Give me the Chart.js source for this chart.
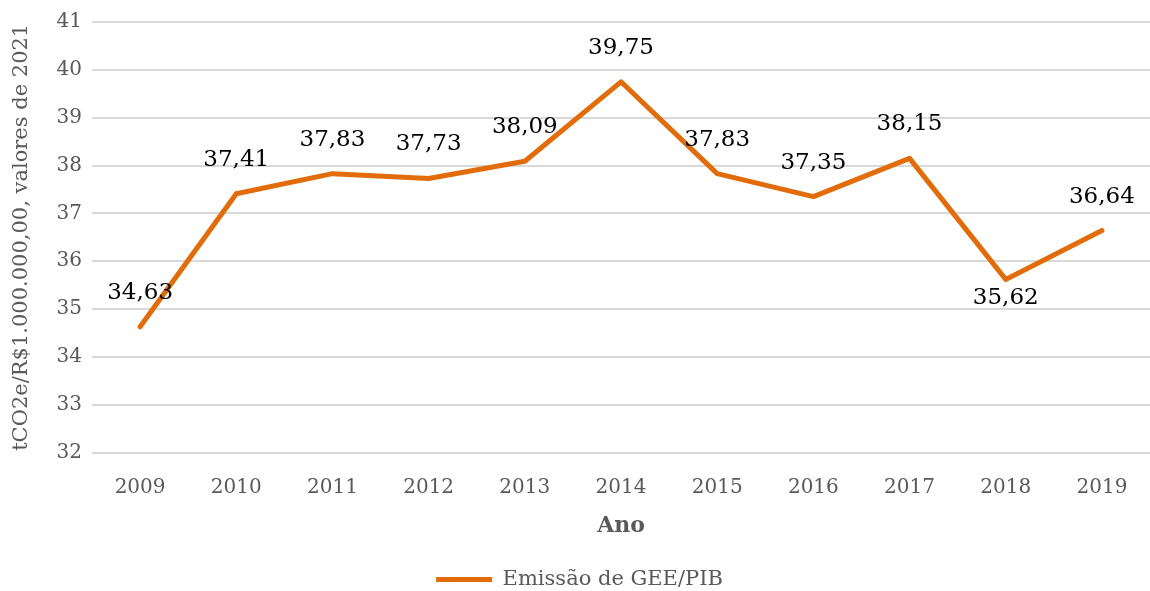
<!DOCTYPE html>
<html>
<head>
<meta charset="utf-8">
<script src="https://cdn.jsdelivr.net/npm/chart.js@4/dist/chart.umd.min.js"></script>
<style>
  html, body { margin: 0; padding: 0; background: #fff; }
  #wrap { width: 1150px; height: 591px; position: relative; }
</style>
</head>
<body>
<div id="wrap"><canvas id="grafico"></canvas></div>
<script>
// ── DADOS ──
var anos = ['2009','2010','2011','2012','2013','2014','2015','2016','2017','2018','2019'];
var emissaoPib = [34.63, 37.41, 37.83, 37.73, 38.09, 39.75, 37.83, 37.35, 38.15, 35.62, 36.64];
var ticksY = [32, 33, 34, 35, 36, 37, 38, 39, 40, 41];
// rótulos que ficam abaixo da linha
var rotuloAbaixo = ['2018'];

var laranja = '#E36C0A';
var cinza = '#595959';
var fonte = "'DejaVu Serif', serif";

var fmtBR = function(v) { return v.toFixed(2).replace('.', ','); };

// rótulos de valor sobre cada ponto
var rotulosPlugin = {
  id: 'rotulos',
  afterDatasetsDraw: function(chart) {
    var ctx = chart.ctx;
    var meta = chart.getDatasetMeta(0);
    ctx.save();
    ctx.font = '23px ' + fonte;
    ctx.fillStyle = '#000';
    ctx.textAlign = 'center';
    ctx.textBaseline = 'middle';
    meta.data.forEach(function(pt, i) {
      var abaixo = rotuloAbaixo.indexOf(anos[i]) >= 0;
      ctx.fillText(fmtBR(emissaoPib[i]), pt.x, pt.y + (abaixo ? 19 : -34));
    });
    ctx.restore();
  }
};

new Chart(document.getElementById('grafico'), {
  type: 'line',
  data: {
    labels: anos,
    datasets: [{
      label: 'Emissão de GEE/PIB',
      data: emissaoPib,
      borderColor: laranja,
      backgroundColor: laranja,
      borderWidth: 5,
      borderCapStyle: 'round',
      borderJoinStyle: 'round',
      tension: 0,
      pointRadius: 0,
      fill: false
    }]
  },
  options: {
    responsive: true,
    maintainAspectRatio: false,
    animation: false,
    layout: { padding: { top: 5, right: 0, left: 9, bottom: -9 } },
    plugins: {
      tooltip: { enabled: false },
      legend: {
        position: 'bottom',
        labels: {
          color: cinza,
          font: { family: fonte, size: 21 },
          boxWidth: 56,
          boxHeight: 5,
          padding: 2,
          generateLabels: function(chart) {
            return Chart.defaults.plugins.legend.labels.generateLabels(chart).map(function(it) {
              it.lineWidth = 0;
              it.fillStyle = laranja;
              return it;
            });
          }
        }
      }
    },
    scales: {
      x: {
        offset: true,
        grid: { display: false },
        border: { display: false },
        ticks: { color: cinza, font: { family: fonte, size: 20 }, padding: 15 },
        title: {
          display: true, text: 'Ano', color: cinza,
          font: { family: fonte, size: 22, weight: 'bold' }, padding: { top: -2, bottom: 28 }
        }
      },
      y: {
        min: 32, max: 41,
        afterBuildTicks: function(scale) {
          scale.ticks = ticksY.map(function(v) { return { value: v }; });
        },
        afterFit: function(scale) { scale.width = 83; },
        grid: { color: '#d9d9d9', lineWidth: 2, drawTicks: false },
        border: { display: false },
        ticks: { color: cinza, font: { family: fonte, size: 20 }, padding: 10 },
        title: {
          display: true, text: 'tCO2e/R$1.000.000,00, valores de 2021', color: cinza,
          font: { family: fonte, size: 21 }, padding: 0
        }
      }
    }
  },
  plugins: [rotulosPlugin]
});
</script>
</body>
</html>
